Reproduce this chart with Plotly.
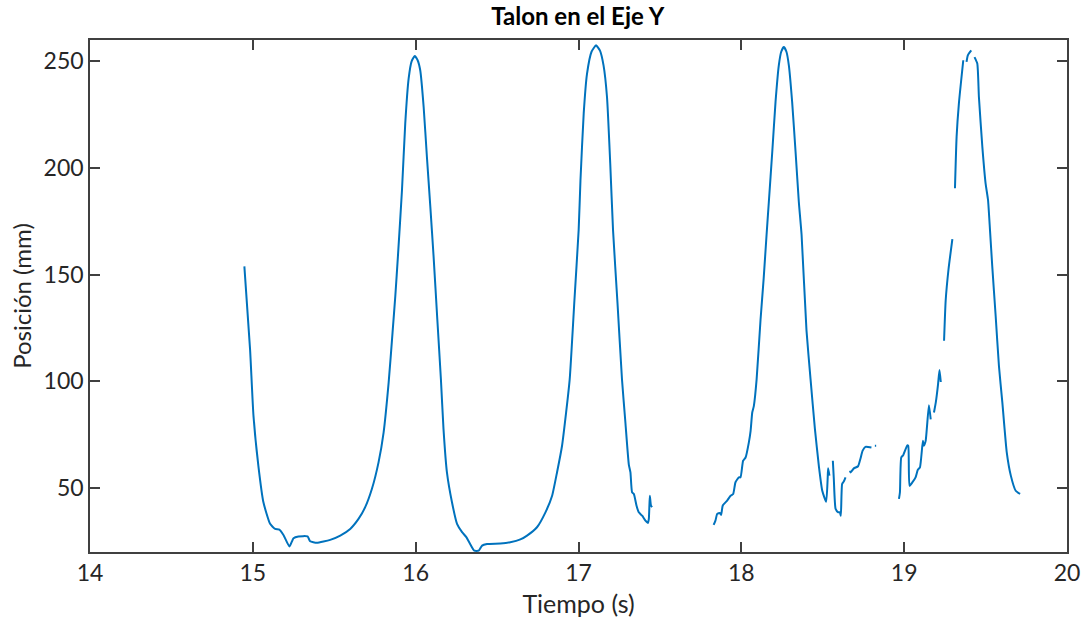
import plotly.graph_objects as go

# Time (s) and heel Y position (mm); None marks gaps in the recording
tiempo = [
    14.948, 14.983, 15.004, 15.034, 15.065, 15.106, 15.137, 15.163, 15.188, 15.225,
    15.250, 15.280, 15.336, 15.352, 15.393, 15.475, 15.537, 15.598, 15.649, 15.690,
    15.731, 15.772, 15.803, 15.834, 15.858, 15.875, 15.891, 15.916, 15.936, 15.957,
    15.975, 15.994, 16.012, 16.028, 16.049, 16.069, 16.090, 16.110, 16.133, 16.155,
    16.171, 16.192,
    16.223, 16.254, 16.285, 16.311, 16.336, 16.360, 16.387, 16.408, 16.438, 16.520,
    16.581, 16.643, 16.684, 16.745, 16.797, 16.838, 16.868, 16.899, 16.924, 16.946,
    16.975, 17.001, 17.012, 17.032, 17.052, 17.080, 17.108, 17.132, 17.154, 17.175,
    17.195, 17.212, 17.240,
    17.267, 17.288, 17.309, 17.319, 17.329, 17.340, 17.356, 17.370, 17.391, 17.411,
    17.426, 17.432, 17.438, 17.445, 17.452, None,
    17.830, 17.841, 17.852, 17.868, 17.876, 17.886, 17.913, 17.934, 17.950, 17.964,
    17.985, 17.995, 18.011, 18.026, 18.046, 18.057, 18.067, 18.077, 18.094, 18.118,
    18.137, 18.155, 18.169, 18.190, 18.210, 18.230, 18.245, 18.261, 18.277, 18.292,
    18.312, 18.333,
    18.353, 18.370, 18.400, 18.425, 18.452, 18.476, 18.497, 18.521, 18.530, 18.533,
    18.541, None,
    18.562, 18.568, 18.579, 18.595, 18.605, 18.611, 18.619, 18.629, 18.640, None,
    18.667, 18.671, 18.691, 18.717, 18.731, 18.745, 18.762, 18.799, None,
    18.820, 18.828, None,
    18.968, 18.974, 18.982, 18.994, 19.019, 19.025, 19.033, 19.050, 19.070, 19.084,
    19.097, 19.115, 19.121, 19.132, 19.152, 19.163, None,
    19.183, 19.194, 19.208, 19.217, 19.225, None,
    19.245, 19.255, 19.272, 19.296, None,
    19.312, 19.322, 19.336, 19.363, None,
    19.383, 19.391, 19.412, None,
    19.432, 19.449, 19.459, 19.480, 19.500, 19.515, 19.527, 19.541, 19.562, 19.582,
    19.603, 19.630, 19.655, 19.685, 19.712,
]

posicion = [
    153.9, 115.0, 83.8, 60.4, 43.3, 33.2, 30.8, 30.5, 28.0, 22.6,
    26.5, 27.3, 27.3, 25.0, 24.3, 25.7, 27.7, 30.8, 35.5, 41.0,
    49.5, 62.0, 76.0, 99.4, 122.8, 140.0, 158.6, 189.7, 220.9, 242.0,
    250.0, 252.5, 250.5, 245.8, 228.6, 205.3, 181.9, 158.6, 129.0, 101.0,
    77.6, 57.3,
    43.3, 33.2, 29.3, 27.0, 23.5, 20.6, 20.6, 23.0, 23.7, 24.0,
    24.6, 25.9, 27.7, 31.6, 38.6, 46.4, 57.3, 69.8, 85.4, 101.0,
    138.0, 171.0, 194.0, 225.6, 244.0, 254.5, 257.5, 255.0, 248.0, 233.3,
    202.0, 171.0, 136.0,
    101.0, 80.7, 61.0, 57.3, 48.0, 47.2, 41.8, 38.6, 37.0, 34.7,
    33.6, 35.5, 46.4, 41.8, 41.0, None,
    32.7, 34.7, 37.9, 38.3, 37.4, 41.8, 44.1, 46.4, 47.2, 52.7,
    55.0, 55.0, 62.8, 64.3, 71.3, 76.8, 85.4, 88.5, 101.0, 129.0,
    148.0, 168.7, 184.2, 207.6, 231.0, 248.0, 254.5, 256.7, 254.5, 248.0,
    231.0, 207.6,
    184.2, 168.7, 124.0, 101.0, 77.6, 60.4, 48.7, 43.6, 54.2, 59.2,
    55.8, None,
    62.8, 54.2, 40.2, 38.6, 38.6, 37.0, 51.9, 53.0, 55.0, None,
    58.1, 57.3, 59.2, 60.2, 63.6, 67.5, 69.3, 69.0, None,
    69.8, 69.8, None,
    44.9, 48.0, 64.3, 65.4, 70.0, 69.8, 51.0, 52.6, 55.0, 58.6,
    59.7, 72.1, 69.8, 72.1, 88.8, 82.2, None,
    85.4, 90.0, 98.6, 105.3, 99.7, None,
    119.0, 138.0, 152.3, 166.7, None,
    190.5, 214.6, 230.2, 250.5, None,
    249.7, 252.8, 255.1, None,
    252.0, 249.0, 233.3, 210.0, 192.8, 185.0, 171.0, 153.9, 130.5, 107.2,
    90.0, 66.7, 55.8, 48.7, 47.2,
]

x_ticks = [14, 15, 16, 17, 18, 19, 20]
y_ticks = [50, 100, 150, 200, 250]

FONT = "Lato"
AX = "#404040"

fig = go.Figure()
fig.add_trace(go.Scatter(
    x=tiempo, y=posicion, mode="lines",
    line=dict(color="#0072BD", width=2, shape="spline", smoothing=0.5),
    connectgaps=False, showlegend=False,
))

axis_common = dict(
    showline=True, linecolor=AX, linewidth=1.5, mirror="ticks",
    ticks="inside", ticklen=10, tickwidth=1.5, tickcolor=AX,
    showgrid=False, zeroline=False, automargin=False,
    tickfont=dict(family=FONT, size=23, color="#262626"),
)

fig.update_layout(
    width=1086, height=625,
    margin=dict(l=90, r=19, t=40, b=73),
    paper_bgcolor="white", plot_bgcolor="white",
    title=dict(text="<b>Talon en el Eje Y</b>", x=0.532, xanchor="center",
               y=0.973, yanchor="middle",
               font=dict(family=FONT, size=24, color="black")),
    xaxis=dict(range=[14, 20], tickvals=x_ticks,
               ticktext=[str(v) for v in x_ticks],
               title=dict(text="Tiempo (s)", font=dict(family=FONT, size=25, color="#262626"),
                          standoff=10),
               **axis_common),
    yaxis=dict(range=[20, 260], tickvals=y_ticks,
               ticktext=[str(v) for v in y_ticks],
               title=dict(text="Posición (mm)", font=dict(family=FONT, size=24, color="#262626"),
                          standoff=5),
               **axis_common),
)

fig.write_html("out.html")
